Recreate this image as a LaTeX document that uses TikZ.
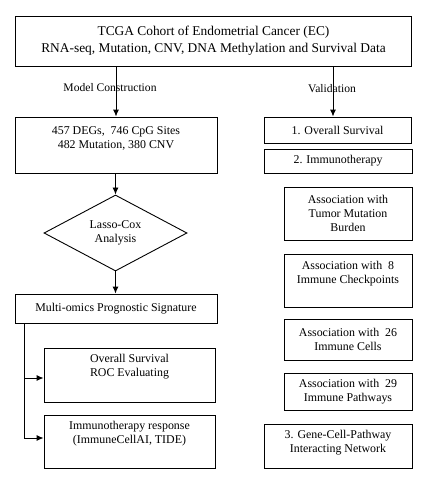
\documentclass[tikz,border=0pt]{standalone}
\usepackage{fontspec}
\setmainfont{Liberation Serif}
\usetikzlibrary{shapes.geometric,arrows.meta,calc}
\begin{document}
\begin{tikzpicture}[x=1pt,y=-1pt,
  box/.style={draw,line width=0.9pt,inner sep=0pt,align=center},
  txt/.style={align=center,inner sep=0pt,font=\fontsize{11.9}{14}\selectfont},
  arr/.style={line width=0.9pt,-{Latex[length=7pt,width=6pt]}},
  ln/.style={line width=0.9pt}]
\useasboundingbox (0,0) rectangle (423,480);
% top
\node[box,minimum width=396pt,minimum height=50pt,font=\fontsize{13.4}{17}\selectfont] (top) at (213.5,41) {TCGA Cohort of Endometrial Cancer (EC)\\RNA-seq, Mutation, CNV, DNA Methylation and Survival Data};
% left column
\node[box,minimum width=202pt,minimum height=56pt] (degs) at (116,145) {};
\node[txt] at (116,138) {457 DEGs,\ \ 746 CpG Sites\\482 Mutation, 380 CNV};
\node[draw,diamond,line width=0.9pt,minimum width=143pt,minimum height=70pt,inner sep=0pt,txt] (lasso) at (115.5,233) {Lasso-Cox\\Analysis};
\node[box,minimum width=202pt,minimum height=29pt,txt] (multi) at (116,308.5) {Multi-omics Prognostic Signature};
\node[box,minimum width=171pt,minimum height=54pt] (roc) at (129.5,375) {};
\node[txt] at (129.5,367) {Overall Survival\\ROC Evaluating};
\node[box,minimum width=171pt,minimum height=53pt] (imm) at (129.5,441.5) {};
\node[txt] at (129.5,434) {Immunotherapy response\\(ImmuneCellAI, TIDE)};
% right column
\node[box,minimum width=147pt,minimum height=26pt,txt] (os) at (337.5,130) {1. Overall Survival};
\node[box,minimum width=148pt,minimum height=24pt,txt] (immt) at (338,161) {2. Immunotherapy};
\node[box,minimum width=128pt,minimum height=53pt,txt] (tmb) at (348,213.5) {Association with\\Tumor Mutation\\Burden};
\node[box,minimum width=128pt,minimum height=53pt] (icp) at (348,280.5) {};
\node[txt] at (348,274) {Association with\ \ 8\\Immune Checkpoints};
\node[box,minimum width=128pt,minimum height=41pt,txt] (cells) at (348,339.5) {Association with\ \ 26\\Immune Cells};
\node[box,minimum width=128pt,minimum height=37pt,txt] (path) at (348,391.5) {Association with\ \ 29\\Immune Pathways};
\node[box,minimum width=148pt,minimum height=44pt] (net) at (338,446) {};
\node[txt] at (338,443) {3. Gene-Cell-Pathway\\Interacting Network};
% connectors
\draw[arr] (top.south -| degs.north) -- (degs.north);
\draw[arr] (top.south -| 333,0) -- (os.north -| 333,0);
\node[txt,font=\fontsize{11.6}{12}\selectfont] (mc) at (110,87.5) {Model Construction};
\node[txt,font=\fontsize{11.6}{12}\selectfont] (val) at (332,88.5) {Validation};
\draw[arr] (degs.south -| lasso.north) -- (lasso.north);
\draw[arr] (lasso.south) -- (multi.north -| lasso.south);
\coordinate (trunk) at (multi.south -| 24,0);
\draw[ln] (trunk) -- (24,438);
\draw[arr] (24,378) -- (roc.west |- 0,378);
\draw[arr] (24,438) -- (imm.west |- 0,438);
\end{tikzpicture}
\end{document}
